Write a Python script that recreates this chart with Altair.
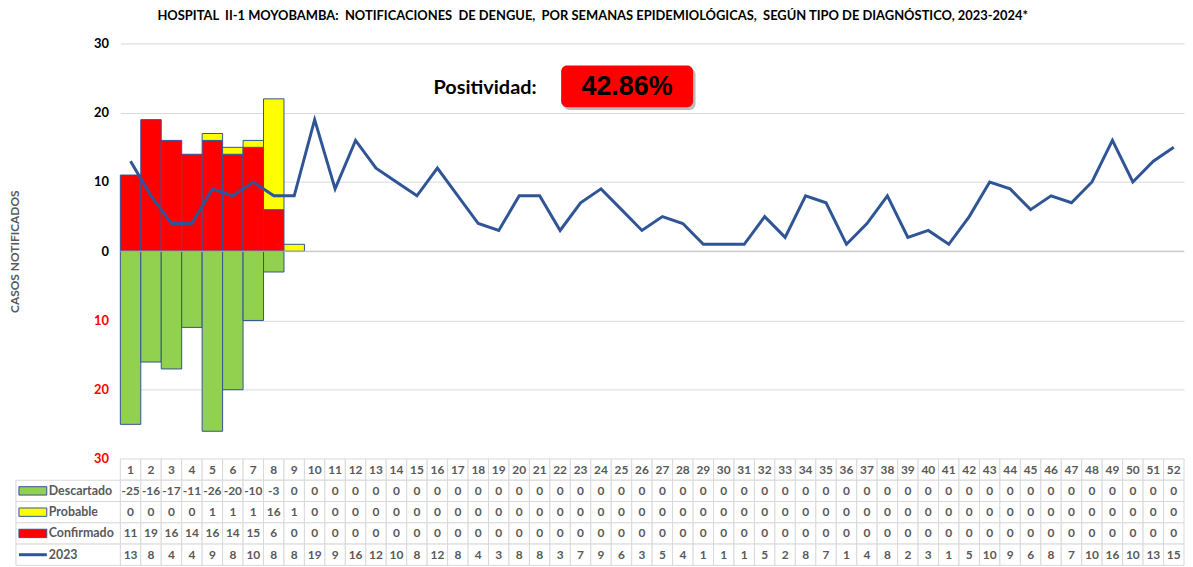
import altair as alt
import pandas as pd

# ---------------- data ----------------
weeks = list(range(1, 53))
descartado = [-25, -16, -17, -11, -26, -20, -10, -3] + [0] * 44
probable = [0, 0, 0, 0, 1, 1, 1, 16, 1] + [0] * 43
confirmado = [11, 19, 16, 14, 16, 14, 15, 6] + [0] * 44
casos_2023 = [13, 8, 4, 4, 9, 8, 10, 8, 8, 19, 9, 16, 12,
              10, 8, 12, 8, 4, 3, 8, 8, 3, 7, 9, 6, 3, 5, 4, 1, 1, 1, 5,
              2, 8, 7, 1, 4, 8, 2, 3, 1, 5, 10, 9, 6, 8, 7, 10, 16, 10, 13, 15]
series_names = ["Descartado", "Probable", "Confirmado", "2023"]
series_colors = ["#92D050", "#FFFF00", "#FF0000", "#2F5597"]
y_ticks = [-30, -20, -10, 0, 10, 20, 30]
title_text = ("HOSPITAL\u00a0 II-1 MOYOBAMBA:\u00a0 NOTIFICACIONES\u00a0 DE DENGUE,\u00a0 POR SEMANAS "
              "EPIDEMIOLÓGICAS,\u00a0 SEGÚN TIPO DE DIAGNÓSTICO, 2023-2024*")
y_title = "CASOS NOTIFICADOS"
positividad_label = "Positividad:"
positividad_value = "42.86%"

color_of = dict(zip(series_names, series_colors))
LINE_BLUE = color_of["2023"]
FONT = "Lato"

# ---------------- tables ----------------
bar_rows = []
for i, w in enumerate(weeks):
    c, p, d = confirmado[i], probable[i], descartado[i]
    if c:
        bar_rows.append(dict(week=w, serie="Confirmado", y0=0, y1=c))
    if p:
        bar_rows.append(dict(week=w, serie="Probable", y0=c, y1=c + p))
    if d:
        bar_rows.append(dict(week=w, serie="Descartado", y0=0, y1=d))
bars_df = pd.DataFrame(bar_rows)
bars_df["x0"] = bars_df["week"] - 0.5
bars_df["x1"] = bars_df["week"] + 0.5
bars_df["color"] = bars_df["serie"].map(color_of)

line_df = pd.DataFrame({"week": weeks, "casos": casos_2023})

xscale = alt.Scale(domain=[0.5, 52.5], nice=False, zero=False)
yscale = alt.Scale(domain=[-30, 30], nice=False)
yaxis = alt.Axis(
    title=y_title, values=y_ticks, labelExpr="'' + abs(datum.value)",
    labelColor=alt.ExprRef(expr="datum.value < 0 ? '#FF0000' : '#000000'"),
    labelFont=FONT, labelFontSize=13, labelFontWeight="bold", labelPadding=12,
    ticks=False, domain=False, gridColor="#D9D9D9", gridWidth=1,
    titleFont=FONT, titleFontSize=12, titleFontWeight="bold", titleColor="#595959",
    titlePadding=72,
)

W = 1070
H = 418

bars = alt.Chart(bars_df).mark_rect(stroke=LINE_BLUE, strokeWidth=1).encode(
    x=alt.X("x0:Q", scale=xscale, axis=None),
    x2="x1:Q",
    y=alt.Y("y0:Q", scale=yscale, axis=yaxis),
    y2="y1:Q",
    color=alt.Color("color:N", scale=None),
)

zero_rule = alt.Chart(pd.DataFrame({"z": [0]})).mark_rule(color="#BFBFBF", strokeWidth=1).encode(
    y=alt.Y("z:Q", scale=yscale, axis=yaxis)
)

line = alt.Chart(line_df).mark_line(color=LINE_BLUE, strokeWidth=3).encode(
    x=alt.X("week:Q", scale=xscale, axis=None),
    y=alt.Y("casos:Q", scale=yscale, axis=yaxis),
)

# annotation box (placed in data units)
box_df = pd.DataFrame({"bx0": [22.05], "bx1": [28.5], "by0": [20.8], "by1": [26.8]})
shadow = alt.Chart(box_df).mark_rect(color="#9E9E9E", cornerRadius=6, opacity=0.7).encode(
    x=alt.X("sx0:Q", scale=xscale, axis=None), x2="sx1:Q",
    y=alt.Y("sy0:Q", scale=yscale, axis=yaxis), y2="sy1:Q",
).transform_calculate(sx0="datum.bx0 + 0.12", sx1="datum.bx1 + 0.12",
                      sy0="datum.by0 - 0.4", sy1="datum.by1 - 0.4")
box = alt.Chart(box_df).mark_rect(color="#FF0000", cornerRadius=6).encode(
    x=alt.X("bx0:Q", scale=xscale, axis=None), x2="bx1:Q",
    y=alt.Y("by0:Q", scale=yscale, axis=yaxis), y2="by1:Q",
)
ann_df = pd.DataFrame({"ax": [18.33, 25.27], "ay": [23.5, 23.7],
                       "txt": [positividad_label, positividad_value]})
ann_label = alt.Chart(ann_df.iloc[[0]]).mark_text(
    font=FONT, fontSize=20, fontWeight="bold", color="#000000").encode(
    x=alt.X("ax:Q", scale=xscale, axis=None),
    y=alt.Y("ay:Q", scale=yscale, axis=yaxis), text="txt:N")
ann_value = alt.Chart(ann_df.iloc[[1]]).mark_text(
    font="Liberation Sans", fontSize=27, fontWeight="bold", color="#000000").encode(
    x=alt.X("ax:Q", scale=xscale, axis=None),
    y=alt.Y("ay:Q", scale=yscale, axis=yaxis), text="txt:N")

top = alt.layer(bars, zero_rule, line, shadow, box, ann_label, ann_value).properties(
    width=W, height=H)

# ---------------- data table ----------------
row_keys = ["Semana"] + series_names
cell_rows = []
for i, w in enumerate(weeks):
    vals = [w, descartado[i], probable[i], confirmado[i], casos_2023[i]]
    for k, v in zip(row_keys, vals):
        cell_rows.append(dict(week=w, row=k, label=str(v)))
cells_df = pd.DataFrame(cell_rows)
cells_df["x0"] = cells_df["week"] - 0.5
cells_df["x1"] = cells_df["week"] + 0.5

yrow = alt.Y("row:N", scale=alt.Scale(domain=row_keys, paddingInner=0, paddingOuter=0),
             axis=None)

cells = alt.Chart(cells_df).mark_rect(fill="#FFFFFF", stroke="#D9D9D9", strokeWidth=1).encode(
    x=alt.X("x0:Q", scale=xscale, axis=None), x2="x1:Q", y=yrow)
cell_text = alt.Chart(cells_df).mark_text(
    font=FONT, fontSize=12, fontWeight="bold", color="#595959").encode(
    x=alt.X("week:Q", scale=xscale, axis=None), y=yrow, text="label:N")

legend_df = pd.DataFrame({"row": series_names, "color": series_colors})
leg_cells = alt.Chart(legend_df).mark_rect(fill="#FFFFFF", stroke="#D9D9D9", strokeWidth=1).encode(
    x=alt.value(-105), x2=alt.value(0), y=yrow)
swatch = alt.Chart(legend_df.iloc[:3]).mark_point(
    shape="M-1,-0.3L1,-0.3L1,0.3L-1,0.3Z", size=784, filled=True, opacity=1,
    stroke=LINE_BLUE, strokeWidth=1).encode(
    x=alt.value(-88), y=yrow, fill=alt.Fill("color:N", scale=None))
swatch_line = alt.Chart(legend_df.iloc[[3]]).mark_point(
    shape="M-1,0L1,0", size=784, filled=False, opacity=1,
    color=LINE_BLUE, strokeWidth=3).encode(x=alt.value(-88), y=yrow)
leg_text = alt.Chart(legend_df).mark_text(
    font=FONT, fontSize=12.5, fontWeight="bold", color="#595959", align="left").encode(
    x=alt.value(-72), y=yrow, text="row:N")

table = alt.layer(cells, cell_text, leg_cells, swatch, swatch_line, leg_text).properties(
    width=W, height=107)

chart = alt.vconcat(top, table, spacing=0, bounds="flush").properties(
    title=alt.TitleParams(title_text, font=FONT, fontSize=13, fontWeight="bold",
                          color="#000000", anchor="middle", dx=-4, offset=15),
    padding={"left": 0, "top": 0, "right": 0, "bottom": 0},
).configure_view(stroke=None)

chart.save("out.html", embed_options={"renderer": "svg", "actions": False})
